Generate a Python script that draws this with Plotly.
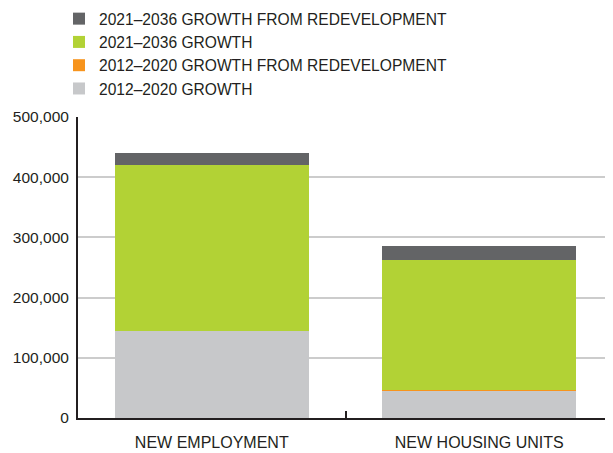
import plotly.graph_objects as go

categories = ["NEW EMPLOYMENT", "NEW HOUSING UNITS"]
growth_2012_2020 = [145000, 45000]
redev_2012_2020 = [0, 1500]
growth_2021_2036 = [275000, 215500]
redev_2021_2036 = [20000, 23500]

series_names = [
    "2012–2020 GROWTH",
    "2012–2020 GROWTH FROM REDEVELOPMENT",
    "2021–2036 GROWTH",
    "2021–2036 GROWTH FROM REDEVELOPMENT",
]
series_values = [growth_2012_2020, redev_2012_2020, growth_2021_2036, redev_2021_2036]
series_colors = ["#C7C8CA", "#F7941D", "#B2D235", "#636466"]
y_tick_values = [0, 100000, 200000, 300000, 400000, 500000]
y_tick_labels = ["0", "100,000", "200,000", "300,000", "400,000", "500,000"]

FONT = "Liberation Sans, Arial, Helvetica, sans-serif"
TEXT = "#231F20"

# page body has an 8px margin, so the figure is drawn 8px in from the window corner
W, H = 605, 445
L, R, T, B = 70, 0, 109, 35
PW, PH = W - L - R, H - T - B

fig = go.Figure()
for name, vals, col in zip(series_names, series_values, series_colors):
    fig.add_trace(go.Bar(
        x=categories, y=vals, name=name,
        marker=dict(color=col, line=dict(width=0)),
    ))

fig.update_layout(
    barmode="stack",
    bargap=0.275,
    width=W, height=H,
    margin=dict(l=L, r=R, t=T, b=B, autoexpand=False),
    paper_bgcolor="white",
    plot_bgcolor="white",
    font=dict(family=FONT, color=TEXT, size=16),
    legend=dict(
        traceorder="reversed",
        orientation="v",
        x=(51 - L) / PW, xanchor="left",
        y=(H - B + 6) / PH, yanchor="top",
        font=dict(family=FONT, size=15.6, color=TEXT),
        bgcolor="rgba(0,0,0,0)",
        borderwidth=0,
        itemclick=False,
    ),
    xaxis=dict(
        showline=True, linecolor=TEXT, linewidth=2,
        ticks="inside", tickson="boundaries", ticklen=7, tickwidth=2, tickcolor=TEXT,
        showgrid=False,
        tickangle=0, ticklabelstandoff=9,
        tickfont=dict(family=FONT, size=16, color=TEXT),
        fixedrange=True,
    ),
    yaxis=dict(
        range=[0, 500000],
        tickvals=y_tick_values, ticktext=y_tick_labels,
        showline=True, linecolor=TEXT, linewidth=2,
        showgrid=True, gridcolor="#CCCCCC", gridwidth=1.5,
        zeroline=False,
        ticks="", ticklabelstandoff=4,
        tickfont=dict(family=FONT, size=15.5, color=TEXT),
        fixedrange=True,
    ),
)

fig.write_html("out.html")
